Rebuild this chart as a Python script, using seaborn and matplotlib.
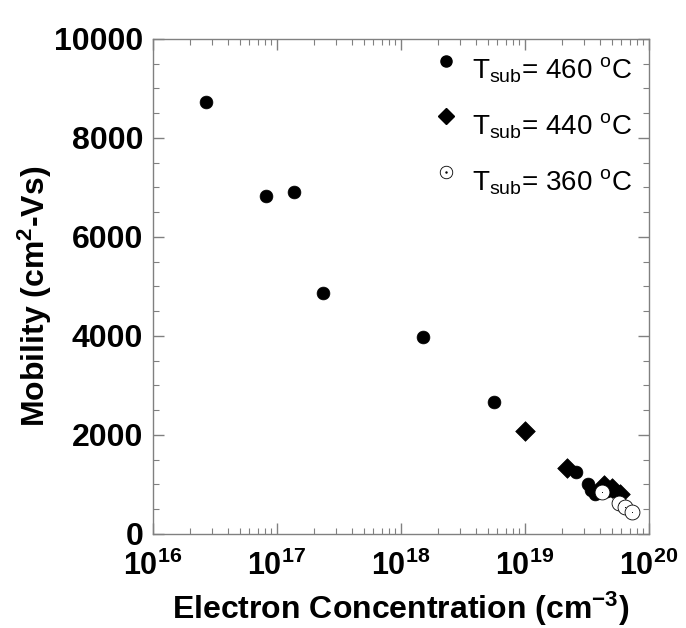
import numpy as np
import pandas as pd
import matplotlib
matplotlib.use("Agg")
import matplotlib.pyplot as plt
from matplotlib.lines import Line2D
from matplotlib.legend_handler import HandlerLine2D
from matplotlib.ticker import LogLocator, MultipleLocator
import seaborn as sns

# values
conc_460 = [2.7e16, 8.2e16, 1.36e17, 2.35e17, 1.5e18, 5.6e18, 2.6e19, 3.2e19, 3.4e19, 3.7e19, 4.6e19]
mob_460 = [8720, 6820, 6900, 4870, 3970, 2670, 1240, 1010, 890, 800, 870]
conc_440 = [1.0e19, 2.2e19, 4.3e19, 5.0e19, 5.8e19]
mob_440 = [2080, 1320, 990, 930, 800]
conc_360 = [4.2e19, 5.7e19, 6.4e19, 7.3e19]
mob_360 = [840, 620, 550, 450]

labels = [r"T$_{\mathdefault{sub}}$= 460 $^{\mathdefault{o}}$C",
          r"T$_{\mathdefault{sub}}$= 440 $^{\mathdefault{o}}$C",
          r"T$_{\mathdefault{sub}}$= 360 $^{\mathdefault{o}}$C"]


class RaisedHandler(HandlerLine2D):
    # legend markers sit level with the top of the "T", not the text centre
    def create_artists(self, legend, orig_handle, xdescent, ydescent, width, height,
                       fontsize, trans):
        return super().create_artists(legend, orig_handle, xdescent, ydescent - 12,
                                      width, height, fontsize, trans)


sns.set_style("ticks")
plt.rcParams['font.family'] = ['Liberation Sans', 'DejaVu Sans']
plt.rcParams['mathtext.default'] = 'regular'
plt.rcParams['text.color'] = 'black'
plt.rcParams['axes.labelcolor'] = 'black'
plt.rcParams['xtick.labelcolor'] = 'black'
plt.rcParams['ytick.labelcolor'] = 'black'

fig = plt.figure(figsize=(6.86, 6.28), dpi=100)
ax = fig.add_axes([0.223, 0.150, 0.723, 0.788])

df460 = pd.DataFrame({"n": conc_460, "mu": mob_460})
df440 = pd.DataFrame({"n": conc_440, "mu": mob_440})
df360 = pd.DataFrame({"n": conc_360, "mu": mob_360})

sns.scatterplot(data=df460, x="n", y="mu", ax=ax, marker="o", s=85, color="black",
                edgecolor="black", linewidth=0.5, zorder=3)
sns.scatterplot(data=df440, x="n", y="mu", ax=ax, marker="D", s=100, color="black",
                edgecolor="black", linewidth=0.5, zorder=3)
sns.scatterplot(data=df360, x="n", y="mu", ax=ax, marker="o", s=115, color="white",
                edgecolor="black", linewidth=0.6, zorder=4)
sns.scatterplot(data=df360, x="n", y="mu", ax=ax, marker=".", s=2, color="black",
                edgecolor="black", linewidth=0, zorder=5)

ax.set_xscale("log")
ax.set_xlim(1e16, 1e20)
ax.set_ylim(0, 10000)
ax.xaxis.set_major_locator(LogLocator(base=10, numticks=10))
ax.xaxis.set_minor_locator(LogLocator(base=10, subs=np.arange(2, 10), numticks=20))
ax.yaxis.set_major_locator(MultipleLocator(2000))
ax.yaxis.set_minor_locator(MultipleLocator(500))

for sp in ax.spines.values():
    sp.set_visible(True)
    sp.set_color("#808080")
    sp.set_linewidth(1.0)
ax.tick_params(which="both", direction="in", top=True, right=True, color="#808080")
ax.tick_params(which="major", length=8, width=1.0, pad=6)
ax.tick_params(which="minor", length=4, width=0.8)
ax.tick_params(axis="y", which="major", labelsize=23, pad=7)
ax.tick_params(axis="x", which="major", labelsize=22, pad=12)
for lab in ax.get_xticklabels() + ax.get_yticklabels():
    lab.set_fontweight("bold")

ax.set_xlabel(r"Electron Concentration (cm$^{\mathdefault{-3}}$)", fontsize=23,
              fontweight="bold", labelpad=6)
ax.set_ylabel(r"Mobility (cm$^{\mathdefault{2}}$-Vs)", fontsize=23, fontweight="bold")
ax.yaxis.set_label_coords(-0.20, 0.479)

h_dot = Line2D([], [], ls="none", marker=".", color="black", markersize=1.5)
handles = [
    Line2D([], [], ls="none", marker="o", color="black", markersize=8),
    Line2D([], [], ls="none", marker="D", color="black", markersize=8),
    (Line2D([], [], ls="none", marker="o", markerfacecolor="white",
            markeredgecolor="black", markeredgewidth=0.6, markersize=9), h_dot),
]
ax.legend(handles, labels, loc="upper right", frameon=False, fontsize=20,
          handletextpad=0.45, labelspacing=0.95, borderaxespad=0.2,
          handlelength=1.0, bbox_to_anchor=(1.0, 1.0),
          handler_map={Line2D: RaisedHandler()})

fig.savefig("out.png", dpi=100)
